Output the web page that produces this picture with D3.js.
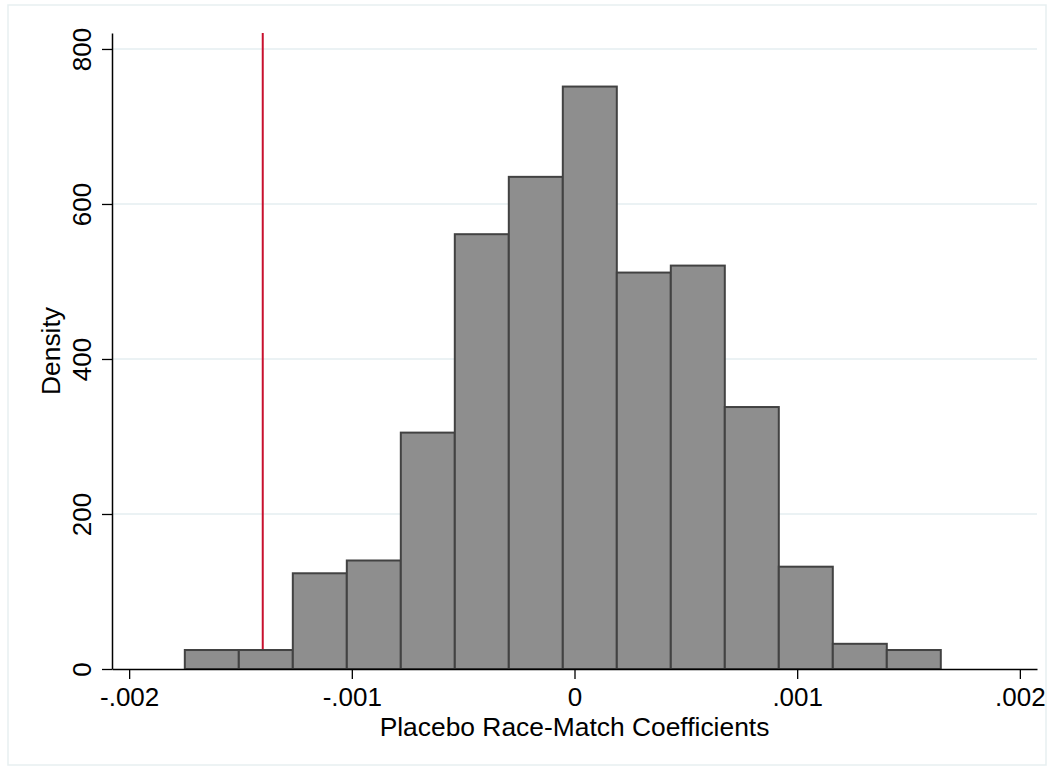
<!DOCTYPE html>
<html>
<head>
<meta charset="utf-8">
<script src="https://cdn.jsdelivr.net/npm/d3@7"></script>
<style>
  html, body { margin: 0; padding: 0; background: #fff; }
  svg { display: block; }
  text { font-family: "Liberation Sans", Arial, Helvetica, sans-serif; fill: #000; }
</style>
</head>
<body>
<svg id="chart" width="1054" height="770"></svg>
<script>
// ---- Data ----
const binEdges = [-0.001750, -0.0015075, -0.001265, -0.0010225, -0.00078, -0.0005375,
  -0.000295, -0.0000525, 0.00019, 0.0004325, 0.000675, 0.0009175, 0.00116, 0.0014025, 0.001645];
const densities = [24.5, 24.5, 123.5, 140, 305, 561, 635, 751.5, 511.5, 520.5, 338, 132, 32.5, 24.5];
const xTickValues = [-0.002, -0.001, 0, 0.001, 0.002];
const xTickLabels = ["-.002", "-.001", "0", ".001", ".002"];
const yTickValues = [0, 200, 400, 600, 800];
const yTickLabels = ["0", "200", "400", "600", "800"];
const xLineValue = [-0.0014];
const xTitle = "Placebo Race-Match Coefficients";
const yTitle = "Density";

const bins = densities.map((d, i) => ({ x0: binEdges[i], x1: binEdges[i + 1], density: d }));

// ---- Layout ----
const svg = d3.select("#chart");
const W = 1054, H = 770;
const plot = { left: 112, right: 1037, top: 33, bottom: 669 };
const tickFont = 26;
const titleFont = 26.4;

const x = d3.scaleLinear().domain([-0.002077, 0.002077]).range([plot.left, plot.right]);
const y = d3.scaleLinear().domain([0, 820.6]).range([plot.bottom, plot.top]);

// outer graph-region border
svg.append("rect")
  .attr("x", 8).attr("y", 5).attr("width", W - 16).attr("height", H - 10)
  .attr("fill", "#fff").attr("stroke", "#e7eff1").attr("stroke-width", 1.5);

// gridlines
svg.append("g").selectAll("line")
  .data(yTickValues.filter(v => v > 0))
  .join("line")
  .attr("x1", plot.left).attr("x2", plot.right)
  .attr("y1", d => y(d)).attr("y2", d => y(d))
  .attr("stroke", "#e4eef0").attr("stroke-width", 1.6);

// reference line
svg.append("g").selectAll("line")
  .data(xLineValue)
  .join("line")
  .attr("x1", d => x(d)).attr("x2", d => x(d))
  .attr("y1", plot.top).attr("y2", plot.bottom)
  .attr("stroke", "#c8102e").attr("stroke-width", 2);

// bars
svg.append("g").selectAll("rect")
  .data(bins)
  .join("rect")
  .attr("x", d => x(d.x0))
  .attr("y", d => y(d.density))
  .attr("width", d => x(d.x1) - x(d.x0))
  .attr("height", d => y(0) - y(d.density))
  .attr("fill", "#8e8e8e")
  .attr("stroke", "#424242")
  .attr("stroke-width", 2);

// x axis
const xAxis = d3.axisBottom(x)
  .tickValues(xTickValues)
  .tickFormat((d, i) => xTickLabels[i])
  .tickSize(10).tickSizeOuter(0).tickPadding(8.5);
const gx = svg.append("g").attr("transform", `translate(0,${plot.bottom})`).call(xAxis);
gx.select(".domain").attr("stroke", "#000").attr("stroke-width", 1.5);
gx.selectAll(".tick line").attr("stroke", "#000").attr("stroke-width", 1.3);
gx.selectAll(".tick text").attr("font-size", tickFont).attr("font-family", "Liberation Sans, Arial, sans-serif");

// y axis
const yAxis = d3.axisLeft(y)
  .tickValues(yTickValues)
  .tickFormat((d, i) => yTickLabels[i])
  .tickSize(10).tickSizeOuter(0);
const gy = svg.append("g").attr("transform", `translate(${plot.left},0)`).call(yAxis);
gy.select(".domain").attr("stroke", "#000").attr("stroke-width", 1.5);
gy.selectAll(".tick line").attr("stroke", "#000").attr("stroke-width", 1.3);
gy.selectAll(".tick text")
  .attr("font-size", tickFont).attr("font-family", "Liberation Sans, Arial, sans-serif")
  .attr("text-anchor", "middle")
  .attr("x", 0).attr("y", -21).attr("dy", 0)
  .attr("transform", "rotate(-90)");

// axis titles
svg.append("text")
  .attr("x", (plot.left + plot.right) / 2).attr("y", 736)
  .attr("text-anchor", "middle").attr("font-size", titleFont)
  .text(xTitle);

svg.append("text")
  .attr("transform", `translate(60,${(plot.top + plot.bottom) / 2}) rotate(-90)`)
  .attr("text-anchor", "middle").attr("font-size", titleFont)
  .text(yTitle);
</script>
</body>
</html>
